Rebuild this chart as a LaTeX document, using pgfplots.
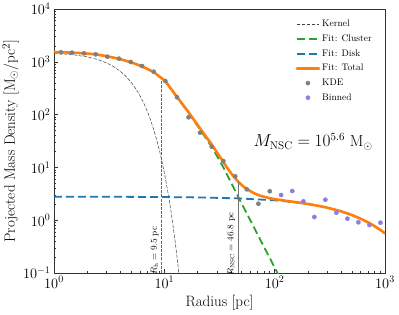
\documentclass[border=0pt]{standalone}
\usepackage{fontspec}
\usepackage{pgfplots}
\pgfplotsset{compat=1.18}
\definecolor{cOrange}{HTML}{FF7F0E}
\definecolor{cGreen}{HTML}{2CA02C}
\definecolor{cBlue}{HTML}{1F77B4}
\definecolor{cPurple}{HTML}{8E7CE3}
\definecolor{cGray}{HTML}{808080}
\begin{document}
\begin{tikzpicture}
\useasboundingbox (-54pt,-41pt) rectangle (345pt,273pt);
\begin{axis}[
  xmode=log, ymode=log,
  scale only axis, width=331pt, height=264pt,
  xmin=1, xmax=1000, ymin=0.1, ymax=10000,
  xtick={1,10,100,1000}, ytick={0.1,1,10,100,1000,10000},
  tick pos=left, tick align=inside,
  major tick length=4pt, minor tick length=2.2pt,
  axis line style={black!80, line width=0.7pt},
  tick style={black!80, line width=0.5pt},
  tick label style={font=\fontsize{14}{16}\selectfont},
  xlabel={Radius [pc]},
  ylabel={Projected Mass Density [M$_\odot$/pc$^2$]},
  label style={font=\fontsize{15}{18}\selectfont},
  x label style={at={(axis description cs:0.5,-0.1277)}, anchor=base},
  y label style={at={(axis description cs:-0.118,0.5)}, anchor=base, inner sep=0pt},
  legend style={draw=none, fill=none, at={(rel axis cs:1,1)}, anchor=north east,
    xshift=-8pt, yshift=-7pt, font=\fontsize{9.5}{11}\selectfont, row sep=2.6pt},
  legend cell align=left,
  legend image code/.code={\draw[mark repeat=2,mark phase=2,#1] plot coordinates {(0pt,0pt) (11pt,0pt) (22pt,0pt)};},
]
% Kernel
\addplot[black!75, line width=0.5pt, dash pattern=on 3.5pt off 1.5pt] coordinates {
(1,1451) (1.5,1359) (2,1240) (2.5,1101) (3,953) (3.5,803) (4,659) (4.5,527) (5,410)
(5.5,311) (6,230) (6.5,166) (7,116) (7.5,79.3) (8,52.7) (8.5,34.1) (9,21.5) (9.5,13.2)
(10,7.93) (10.5,4.62) (11,2.62) (11.5,1.45) (12,0.782) (12.5,0.410) (13,0.210) (13.5,0.104) (14,0.0506)};
\addlegendentry{Kernel}
% Cluster
\addplot[cGreen, line width=1.8pt, dash pattern=on 8pt off 4pt] coordinates {
(1,1527) (1.2,1512) (1.46,1487) (1.87,1447) (2.39,1382) (3.04,1267) (3.88,1137) (4.96,982)
(6.28,817) (8.01,637) (9,526) (10.2,429) (11.5,305) (13,215) (14.7,152) (16.6,108) (18.7,75)
(21.1,52) (23.8,35.7) (26.9,24.5) (30.4,15.7) (34.3,10) (37,7.3) (40,5.3) (43,3.92) (46.8,2.75)
(51,1.94) (55.9,1.34) (65,0.727) (73.8,0.434) (90,0.195) (105,0.104) (120,0.06)};
\addlegendentry{Fit: Cluster}
% Disk
\addplot[cBlue, line width=1.8pt, dash pattern=on 8pt off 4pt] coordinates {
(1,2.786) (2,2.781) (5,2.768) (10,2.746) (20,2.702) (46.8,2.59) (100,2.38) (150,2.196)
(200,2.03) (250,1.871) (300,1.728) (400,1.473) (500,1.255) (600,1.070) (700,0.912)
(800,0.777) (900,0.663) (1000,0.565)};
\addlegendentry{Fit: Disk}
% Total
\addplot[cOrange, line width=2.6pt, line join=round, line cap=round] coordinates {
(1,1530) (1.2,1515) (1.46,1490) (1.87,1450) (2.39,1385) (3.04,1270) (3.88,1140) (4.96,985)
(6.28,820) (8.01,640) (9,529) (10.2,432) (11.5,308) (13,218) (14.7,155) (16.6,110.7)
(18.7,77.7) (21.1,54.7) (23.8,38.4) (26.9,27.2) (30.4,18.4) (34.3,12.6) (37,9.95) (40,7.92)
(43,6.53) (46.8,5.34) (51,4.51) (55.9,3.89) (65,3.24) (73.8,2.91) (90,2.61) (105,2.46)
(130,2.31) (170,2.14) (220,1.964) (300,1.728) (400,1.473) (500,1.255) (600,1.070)
(700,0.912) (800,0.777) (900,0.663) (1000,0.565)};
\addlegendentry{Fit: Total}
% KDE points
\addplot[only marks, mark=*, mark size=2.1pt, cGray, mark options={draw=none, fill=cGray}] coordinates {
(1.158,1514) (1.456,1486) (1.871,1448) (2.388,1387) (3.042,1250) (3.885,1146) (4.960,991)
(6.279,832) (8.013,649) (10.21,432) (13.04,213) (16.58,89) (21.07,45.4) (26.90,24.7)
(34.27,13.2) (43.94,6.78) (55.86,3.85) (71.16,2.05) (90.27,3.54)};
\addlegendentry{KDE}
% Binned points
\addplot[only marks, mark=*, mark size=2.1pt, cPurple, mark options={draw=none, fill=cPurple}] coordinates {
(114.3,3.00) (144.4,3.57) (182.0,2.28) (229.1,1.15) (288.2,2.44) (362.6,1.39) (456.1,1.07)
(574.1,0.912) (722.2,0.811) (908.5,0.897)};
\addlegendentry{Binned}
% vertical lines
\addplot[forget plot, black!60, line width=1.2pt, dash pattern=on 3pt off 1.2pt] coordinates {(9.5,0.1) (9.5,430)};
\addplot[forget plot, black!55, line width=1.2pt] coordinates {(46.8,0.1) (46.8,5.3)};
\node[rotate=90, anchor=south west, inner sep=0pt, font=\fontsize{9}{10}\selectfont, xshift=-2pt, yshift=3pt]
  at (axis cs:9.5,0.1) {$R_{\rm h} = 9.5$ pc};
\node[rotate=90, anchor=south west, inner sep=0pt, font=\fontsize{9}{10}\selectfont, xshift=-3pt, yshift=3pt]
  at (axis cs:46.8,0.1) {$R_{\rm NSC} = 46.8$ pc};
\node[anchor=base, font=\fontsize{16}{19}\selectfont] at (axis cs:223,24.7) {$M_{\rm NSC} = 10^{5.6}\ {\rm M}_\odot$};
\end{axis}
\end{tikzpicture}
\end{document}
